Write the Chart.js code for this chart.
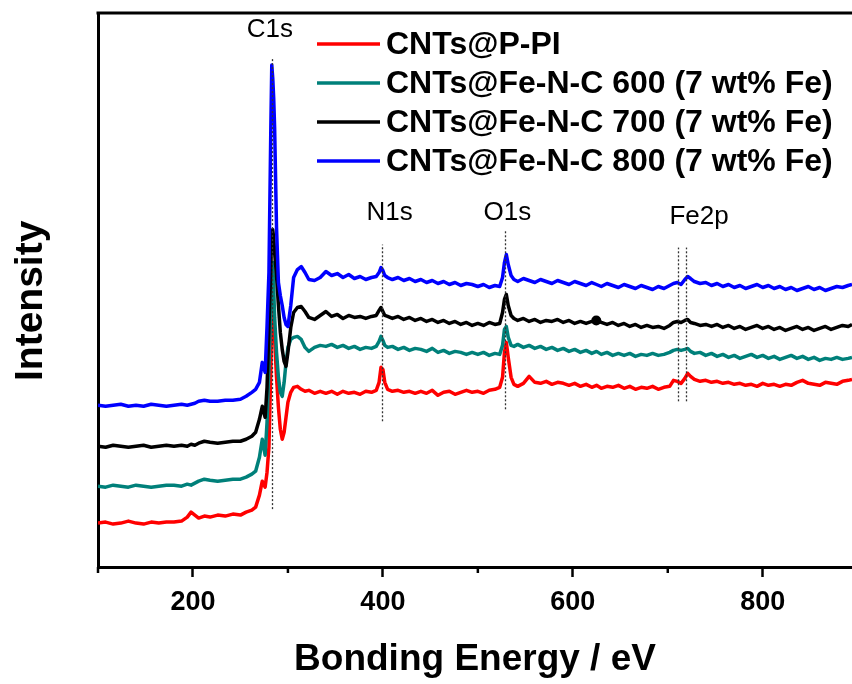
<!DOCTYPE html>
<html>
<head>
<meta charset="utf-8">
<script src="https://cdn.jsdelivr.net/npm/chart.js@4.4.1/dist/chart.umd.min.js"></script>
<style>
  html, body { margin: 0; padding: 0; background: #fff; overflow: hidden; }
  canvas { display: block; }
</style>
</head>
<body>
<canvas id="myChart" width="852" height="684"></canvas>
<script>
// binding energy grid (eV), shared by all four survey spectra
const energy = [
  100, 108, 116, 124, 132, 140, 148, 156, 164, 172,
  180, 188, 194, 198, 202, 206, 212, 218, 226, 234,
  242, 250, 256, 262, 266, 270, 273, 276, 278, 280,
  282, 283, 284, 285, 286, 288, 290, 292, 294, 296,
  298, 300, 303, 306, 310, 314, 318, 322, 328, 334,
  340, 346, 352, 358, 364, 370, 376, 382, 388, 393,
  396, 398, 400, 402, 405, 410, 416, 422, 428, 434,
  440, 446, 452, 458, 464, 470, 476, 482, 488, 494,
  500, 506, 512, 518, 523, 526, 528, 530, 532, 535,
  538, 542, 548, 554, 560, 566, 572, 578, 584, 590,
  596, 602, 608, 614, 620, 625, 630, 636, 642, 648,
  654, 660, 666, 672, 678, 684, 690, 696, 702, 706,
  710, 714, 718, 721, 724, 728, 734, 740, 746, 752,
  758, 764, 770, 776, 782, 788, 794, 800, 806, 812,
  818, 824, 830, 836, 842, 848, 854, 860, 866, 872,
  878, 884, 890, 894
];

// intensities (a.u., curves already offset as in the figure)
const ppi = [
  44, 45, 43, 44, 46, 44, 43, 45, 44, 45,
  45, 46, 50, 55, 52, 49, 51, 50, 52, 51,
  53, 52, 55, 57, 60, 72, 86, 80, 95, 120,
  200, 265, 268, 250, 228, 190, 160, 138, 128, 135,
  150, 165, 175, 180, 181, 178, 176, 177, 174, 176,
  174, 176, 173, 176, 174, 175, 173, 176, 175, 177,
  185, 200, 198, 185, 178, 176, 177, 175, 176, 174,
  176, 174, 177, 172, 175, 176, 173, 175, 177, 175,
  176, 174, 177, 178, 180, 190, 215, 225, 210, 190,
  183, 181, 184, 191, 185, 184, 186, 183, 185, 184,
  182, 184, 181, 183, 180, 182, 179, 181, 180, 182,
  179, 181, 178, 180, 179, 181, 178, 180, 181, 187,
  186, 184, 189, 194, 191, 188, 186, 187, 185, 186,
  184, 185, 183, 184, 182, 183, 181, 184, 182, 183,
  181, 183, 182, 185, 187, 184, 183, 182, 185, 184,
  183, 186, 187, 188
];
const fe600 = [
  81, 80, 82, 81, 80, 82, 81, 80, 81, 82,
  82, 81, 83, 82, 84, 86, 88, 87, 86, 87,
  88, 88, 90, 93, 96, 110, 128, 112, 145, 200,
  260, 300, 305, 280, 250, 215, 190, 175, 171, 185,
  205, 220, 228, 230, 231, 228, 220, 216, 220, 222,
  221, 223, 220, 222, 219, 221, 218, 220, 219, 221,
  226, 231, 227, 222, 220, 221, 218, 220, 217, 219,
  218, 216, 219, 215, 217, 214, 216, 215, 213, 215,
  213, 215, 212, 214, 213, 222, 238, 241, 230, 222,
  221, 223, 220, 222, 219, 221, 218, 220, 217, 219,
  216, 218, 215, 217, 214, 216, 213, 215, 212, 214,
  212, 214, 211, 213, 212, 214, 212, 213, 215, 217,
  218, 217, 218, 219, 216, 214, 215, 212, 214, 211,
  213, 210, 212, 209, 211, 213, 210, 212, 209, 211,
  208, 210, 212, 209, 211, 208, 210, 207, 209, 208,
  210, 208, 209, 210
];
const fe700 = [
  121, 120, 122, 121, 120, 121, 122, 120, 121, 122,
  121, 122, 121, 123, 122, 124, 126, 125, 124, 125,
  126, 126, 128, 131, 135, 148, 161, 150, 180, 240,
  300, 335, 338, 330, 315, 292, 262, 235, 218, 206,
  201, 215, 240, 255, 260, 261, 256, 250, 248, 252,
  256, 251, 253, 249, 252, 250, 251, 249, 251, 252,
  257, 260, 256, 252, 251, 249, 251, 248, 250, 247,
  249, 246, 248, 245, 247, 244, 246, 243, 245, 242,
  244, 242, 245, 243, 244, 255, 268, 273, 262, 252,
  249, 247, 249, 246, 248, 245, 247, 246, 248, 245,
  247, 244, 246, 244, 246, 247, 245, 243, 245, 242,
  244, 241, 243, 240, 242, 240, 241, 239, 242, 245,
  246, 245, 247, 248, 245, 244, 242, 243, 241, 243,
  240, 242, 239, 241, 238, 240, 242, 239, 241, 238,
  240, 237, 239, 241, 238, 240, 237, 239, 241, 238,
  240, 242, 241, 243
];
const fe800 = [
  162, 161, 162, 163, 161, 162, 161, 163, 162, 161,
  162, 163, 162, 163, 164, 166, 167, 166, 166, 167,
  167, 168, 171, 175, 178, 185, 205, 195, 241, 295,
  440, 503, 490, 470, 440, 340, 285, 272, 262, 250,
  243, 241, 262, 290, 298, 301, 295, 288, 287, 290,
  296, 292, 294, 290, 293, 289, 291, 288, 290, 291,
  295, 300, 297, 292, 290, 288, 290, 287, 289, 286,
  288, 285, 287, 284, 286, 283, 285, 282, 284, 283,
  281, 283, 280, 282, 281, 290, 305, 313, 303, 292,
  288, 286, 289, 287, 285, 288, 286, 284, 287, 285,
  283, 286, 284, 282, 285, 283, 281, 284, 282, 280,
  283, 281, 279, 282, 280, 278, 281, 279, 282, 284,
  285, 283, 288, 291, 289, 286, 284, 285, 282, 284,
  281, 283, 280, 282, 279, 281, 283, 280, 282, 279,
  281, 278, 280, 277, 279, 281, 278, 280, 277, 279,
  281, 280, 282, 283
];

const seriesLabels = [
  'CNTs@P-PI',
  'CNTs@Fe-N-C 600 (7 wt% Fe)',
  'CNTs@Fe-N-C 700 (7 wt% Fe)',
  'CNTs@Fe-N-C 800 (7 wt% Fe)'
];
const tickValues = [100, 200, 300, 400, 500, 600, 700, 800];
const tickLabels = [200, 400, 600, 800];

// peak assignments
const peakNames = ['C1s', 'N1s', 'O1s', 'Fe2p'];
const peakNameEnergy = [281, 407, 531, 733];
const peakNameLevel = [538, 355, 355, 351];
const guideEnergy = [283.7, 399.5, 529, 711, 719.6];
const guideFrom = [58, 146, 158, 166, 166];
const guideTo = [510, 323, 338, 320, 320];

// stray dot on the 700 curve
const dotEnergy = [624.7];
const dotLevel = [247];

const font = '"Liberation Sans", Arial, sans-serif';
const colors = ['#ff0000', '#00807a', '#000000', '#0000ff'];

function pts(ys) {
    return energy.map((e, i) => ({ x: e, y: ys[i] }));
}

const extras = {
    id: 'extras',
    afterDatasetsDraw(chart) {
        const { ctx, chartArea, scales: { x, y } } = chart;
        ctx.save();

        // top frame line
        ctx.strokeStyle = '#000';
        ctx.lineWidth = 3;
        ctx.beginPath();
        ctx.moveTo(chartArea.left - 1.5, chartArea.top);
        ctx.lineTo(chartArea.right, chartArea.top);
        ctx.stroke();

        // minor ticks (shorter)
        ctx.lineWidth = 2.5;
        tickValues.filter(v => !tickLabels.includes(v)).forEach(v => {
            const px = x.getPixelForValue(v);
            ctx.beginPath();
            ctx.moveTo(px, chartArea.bottom);
            ctx.lineTo(px, chartArea.bottom + 6);
            ctx.stroke();
        });

        // dotted guide lines
        ctx.setLineDash([2, 2]);
        ctx.lineWidth = 1.3;
        ctx.strokeStyle = '#333';
        guideEnergy.forEach((e, i) => {
            const px = Math.round(x.getPixelForValue(e)) + 0.5;
            ctx.beginPath();
            ctx.moveTo(px, y.getPixelForValue(guideFrom[i]));
            ctx.lineTo(px, y.getPixelForValue(guideTo[i]));
            ctx.stroke();
        });
        ctx.setLineDash([]);

        // peak names
        ctx.fillStyle = '#000';
        ctx.font = '26px ' + font;
        ctx.textAlign = 'center';
        ctx.textBaseline = 'middle';
        peakNames.forEach((n, i) => {
            ctx.fillText(n, x.getPixelForValue(peakNameEnergy[i]), y.getPixelForValue(peakNameLevel[i]));
        });

        // legend
        ctx.font = 'bold 32px ' + font;
        ctx.textAlign = 'left';
        chart.data.datasets.slice(0, 4).forEach((ds, i) => {
            const yy = 44 + i * 39;
            ctx.strokeStyle = ds.borderColor;
            ctx.lineWidth = 3.5;
            ctx.beginPath();
            ctx.moveTo(317, yy);
            ctx.lineTo(380, yy);
            ctx.stroke();
            ctx.fillStyle = '#000';
            ctx.fillText(ds.label, 386, yy + 1);
        });

        ctx.restore();
    }
};

const ctx = document.getElementById('myChart');

new Chart(ctx, {
    type: 'line',
    data: {
        datasets: [
            { label: seriesLabels[0], data: pts(ppi), borderColor: colors[0], order: 4 },
            { label: seriesLabels[1], data: pts(fe600), borderColor: colors[1], order: 3 },
            { label: seriesLabels[2], data: pts(fe700), borderColor: colors[2], order: 2 },
            { label: seriesLabels[3], data: pts(fe800), borderColor: colors[3], order: 1 },
            {
                label: 'dot',
                data: dotEnergy.map((e, i) => ({ x: e, y: dotLevel[i] })),
                showLine: false,
                pointRadius: 5,
                pointHoverRadius: 5,
                pointBackgroundColor: '#000',
                pointBorderWidth: 0,
                order: 0
            }
        ]
    },
    options: {
        responsive: false,
        animation: false,
        devicePixelRatio: 1,
        layout: { autoPadding: false, padding: { top: 13, right: 0, left: 0, bottom: 0 } },
        elements: {
            point: { radius: 0 },
            line: { borderWidth: 3.5, tension: 0, borderJoinStyle: 'round' }
        },
        plugins: {
            legend: { display: false },
            tooltip: { enabled: false }
        },
        scales: {
            x: {
                type: 'linear',
                min: 100,
                max: 894,
                afterBuildTicks: s => { s.ticks = tickValues.map(v => ({ value: v })); },
                ticks: {
                    autoSkip: false,
                    maxRotation: 0,
                    color: '#000',
                    padding: 9,
                    font: { family: font, size: 27, weight: 'bold' },
                    callback: v => tickLabels.includes(v) ? String(v) : ''
                },
                grid: {
                    drawOnChartArea: false,
                    tickLength: 10,
                    tickWidth: 2.5,
                    tickColor: c => (c.tick && tickLabels.includes(c.tick.value)) ? '#000' : 'rgba(0,0,0,0)'
                },
                border: { display: true, width: 3, color: '#000' },
                title: {
                    display: true,
                    text: 'Bonding Energy / eV',
                    color: '#000',
                    font: { family: font, size: 37, weight: 'bold' },
                    padding: { top: 0, bottom: 2 }
                },
                afterFit: s => { s.height = 117; }
            },
            y: {
                min: 0,
                max: 555,
                ticks: { display: false },
                grid: { display: true, drawOnChartArea: false, drawTicks: false },
                border: { display: true, width: 3, color: '#000' },
                title: {
                    display: true,
                    // two trailing spaces nudge the centred title toward the bottom, as in the figure
                    text: 'Intensity  ',
                    color: '#000',
                    font: { family: font, size: 39, weight: 'bold' },
                    padding: 8
                },
                afterFit: s => { s.width = 98; }
            }
        }
    },
    plugins: [extras]
});
</script>
</body>
</html>
